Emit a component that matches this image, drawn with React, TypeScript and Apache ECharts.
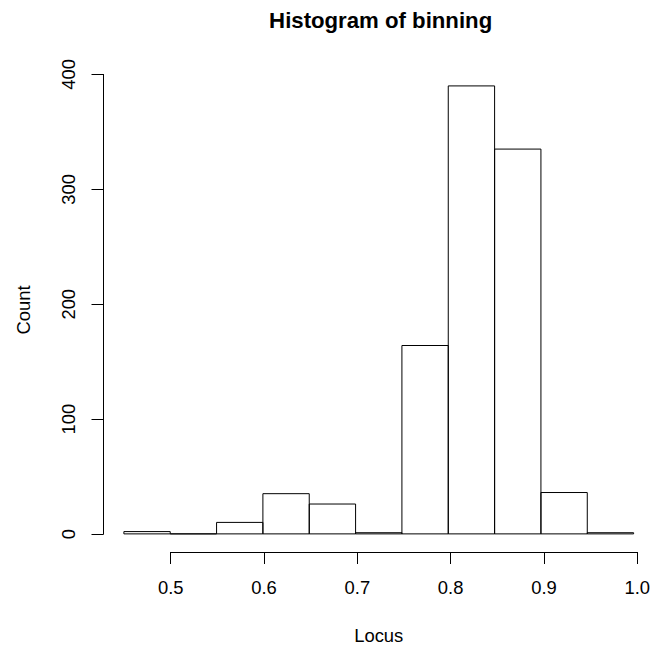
import React, { useEffect, useRef } from "react";
import * as echarts from "echarts";

const binStarts = [0.45, 0.5, 0.55, 0.6, 0.65, 0.7, 0.75, 0.8, 0.85, 0.9, 0.95];
const binWidth = 0.05;
const counts = [2, 0, 10, 35, 26, 1, 164, 390, 335, 36, 1];
const xTickMin = 0.5;
const xTickMax = 1.0;
const yTickMin = 0;
const yTickMax = 400;

const FONT = "'Liberation Sans', Arial, Helvetica, sans-serif";

export default function App() {
  const ref = useRef<HTMLDivElement>(null);
  useEffect(() => {
    if (!ref.current) return;
    const chart = echarts.init(ref.current, undefined, { renderer: "svg" });

    const xMinData = 0.45, xMaxData = 1.0;
    const xPad = (xMaxData - xMinData) * 0.04;
    const yMaxData = Math.max(...counts);
    const yPad = yMaxData * 0.04;
    const xlim = [xMinData - xPad, xMaxData + xPad];
    const ylim = [0 - yPad, yMaxData + yPad];

    const plotLeft = 103.5, plotTop = 68, plotW = 554.3, plotH = 484;
    const pxPerX = plotW / (xlim[1] - xlim[0]);
    const pxPerY = plotH / (ylim[1] - ylim[0]);
    const axLeftX = plotLeft + (xTickMin - xlim[0]) * pxPerX;
    const axWidthX = (xTickMax - xTickMin) * pxPerX;
    const axTopY = plotTop + (ylim[1] - yTickMax) * pxPerY;
    const axHeightY = (yTickMax - yTickMin) * pxPerY;

    const data = binStarts.map((s, i) => [s, s + binWidth, counts[i]]);

    chart.setOption({
      animation: false,
      backgroundColor: "#ffffff",
      textStyle: { fontFamily: FONT },
      title: {
        text: "Histogram of binning",
        left: plotLeft + plotW / 2,
        textAlign: "center",
        top: 9.3,
        padding: 0,
        textStyle: { fontFamily: FONT, fontSize: 22.2, fontWeight: "bold", color: "#000" },
      },
      grid: [
        { left: plotLeft, top: plotTop, width: plotW, height: plotH },
        { left: axLeftX, top: plotTop, width: axWidthX, height: plotH },
        { left: plotLeft, top: axTopY, width: plotW, height: axHeightY },
      ],
      xAxis: [
        {
          gridIndex: 0, type: "value", min: xlim[0], max: xlim[1],
          axisLine: { show: false, onZero: false }, axisTick: { show: false }, axisLabel: { show: false },
          splitLine: { show: false },
          name: "Locus", nameLocation: "middle", nameGap: 74.2,
          nameTextStyle: { fontFamily: FONT, fontSize: 18.4, color: "#000" },
        },
        {
          gridIndex: 1, type: "value", min: xTickMin, max: xTickMax, interval: 0.1,
          axisLine: { show: true, onZero: false, lineStyle: { color: "#000", width: 1 } },
          axisTick: { show: true, inside: false, length: 12, lineStyle: { color: "#000", width: 1 } },
          axisLabel: {
            show: true, margin: 26.8, fontFamily: FONT, fontSize: 18.4, color: "#000",
            formatter: (v: number) => v.toFixed(1),
          },
          splitLine: { show: false },
        },
        {
          gridIndex: 2, type: "value", min: xlim[0], max: xlim[1], show: false,
          axisLine: { onZero: false },
        },
      ],
      yAxis: [
        {
          gridIndex: 0, type: "value", min: ylim[0], max: ylim[1],
          axisLine: { show: false, onZero: false }, axisTick: { show: false }, axisLabel: { show: false },
          splitLine: { show: false },
          name: "Count", nameLocation: "middle", nameGap: 71.2, nameRotate: 90,
          nameTextStyle: { fontFamily: FONT, fontSize: 18.4, color: "#000" },
        },
        {
          gridIndex: 1, type: "value", min: ylim[0], max: ylim[1], show: false,
          axisLine: { onZero: false },
        },
        {
          gridIndex: 2, type: "value", min: yTickMin, max: yTickMax, interval: 100,
          axisLine: { show: true, onZero: false, lineStyle: { color: "#000", width: 1 } },
          axisTick: { show: true, inside: false, length: 12, lineStyle: { color: "#000", width: 1 } },
          axisLabel: { show: true, rotate: 90, margin: 25.6, fontFamily: FONT, fontSize: 18.4, color: "#000" },
          splitLine: { show: false },
        },
      ],
      series: [
        {
          type: "custom",
          xAxisIndex: 0,
          yAxisIndex: 0,
          data,
          encode: { x: [0, 1], y: 2 },
          renderItem: (params: any, api: any) => {
            const x0 = api.value(0), x1 = api.value(1), c = api.value(2);
            const p0 = api.coord([x0, c]);
            const p1 = api.coord([x1, 0]);
            return {
              type: "rect",
              shape: { x: p0[0], y: p0[1], width: p1[0] - p0[0], height: p1[1] - p0[1] },
              style: { fill: "none", stroke: "#000", lineWidth: 1 },
            };
          },
        },
      ],
    });
    return () => chart.dispose();
  }, []);
  return (
    <div
      ref={ref}
      style={{ position: "fixed", left: 0, top: 0, width: 654, height: 649, background: "#fff" }}
    />
  );
}
